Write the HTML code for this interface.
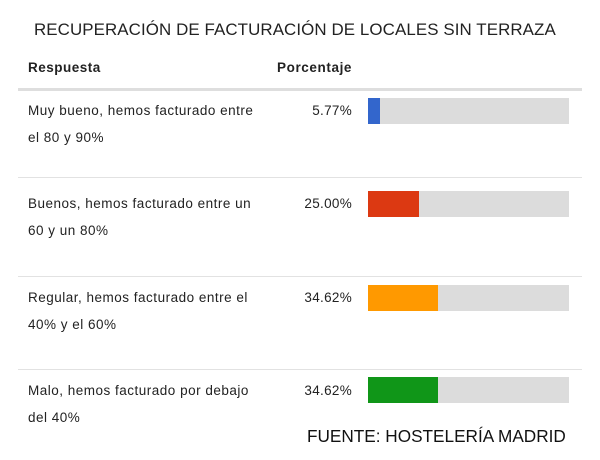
<!DOCTYPE html>
<html><head><meta charset="utf-8"><style>
body{margin:0;width:600px;height:460px;background:#fff;position:relative;overflow:hidden;font-family:"Liberation Sans",sans-serif;color:#222}
div{position:absolute}
.t{font-size:13.5px;line-height:27px;left:28px;width:260px;letter-spacing:0.5px}
.p{font-size:13.5px;left:260px;width:92px;text-align:right;letter-spacing:0.3px}
.bg{left:368px;width:201px;height:26px;background:#dcdcdc}
.f{left:0;top:0;height:26px}
.sep{left:18px;width:564px;height:1px;background:#e2e2e2}
</style></head><body>
<div style="left:34px;top:20px;font-size:16.9px;letter-spacing:0.1px">RECUPERACIÓN DE FACTURACIÓN DE LOCALES SIN TERRAZA</div>
<div style="left:28px;top:60px;font-size:13.5px;font-weight:bold;letter-spacing:0.5px">Respuesta</div>
<div style="left:277px;top:60px;font-size:13.5px;font-weight:bold;letter-spacing:0.6px">Porcentaje</div>
<div style="left:18px;top:88px;width:564px;height:3px;background:#dedede"></div>

<div class="t" style="top:97px">Muy bueno, hemos facturado entre<br>el 80 y 90%</div>
<div class="p" style="top:103px">5.77%</div>
<div class="bg" style="top:98px"><div class="f" style="width:12px;background:#3366cc"></div></div>
<div class="sep" style="top:177px"></div>

<div class="t" style="top:190px">Buenos, hemos facturado entre un<br>60 y un 80%</div>
<div class="p" style="top:196px">25.00%</div>
<div class="bg" style="top:191px"><div class="f" style="width:51px;background:#dc3912"></div></div>
<div class="sep" style="top:276px"></div>

<div class="t" style="top:284px">Regular, hemos facturado entre el<br>40% y el 60%</div>
<div class="p" style="top:290px">34.62%</div>
<div class="bg" style="top:285px"><div class="f" style="width:70px;background:#ff9900"></div></div>
<div class="sep" style="top:369px"></div>

<div class="t" style="top:377px">Malo, hemos facturado por debajo<br>del 40%</div>
<div class="p" style="top:383px">34.62%</div>
<div class="bg" style="top:377px"><div class="f" style="width:70px;background:#109618"></div></div>

<div style="left:307px;top:426px;font-size:17.2px;color:#111">FUENTE: HOSTELERÍA MADRID</div>
</body></html>
